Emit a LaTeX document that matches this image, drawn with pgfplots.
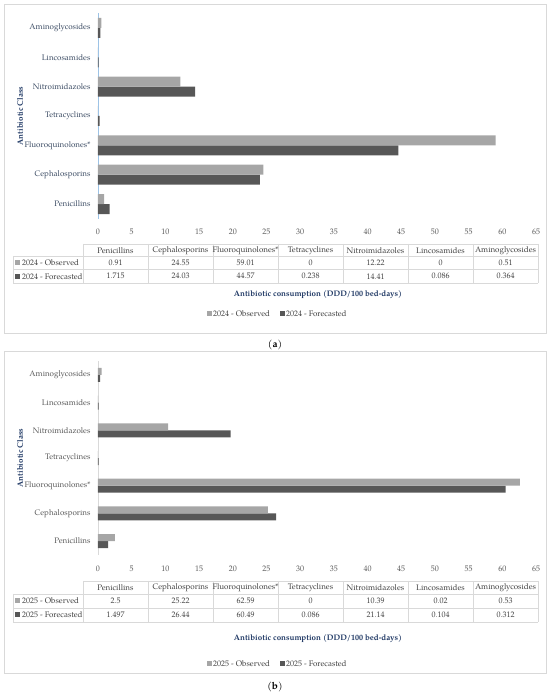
\documentclass[border=0pt]{standalone}
\usepackage{fontspec}
\setmainfont{TeX Gyre Pagella}
\usepackage{pgfplots}
\pgfplotsset{compat=1.18}

\definecolor{obs}{HTML}{A6A6A6}
\definecolor{fc}{HTML}{575757}
\definecolor{navy}{HTML}{1F3864}
\definecolor{catA}{HTML}{3B4B63}
\definecolor{catB}{HTML}{595959}
\definecolor{tickgray}{HTML}{595959}
\definecolor{frame}{HTML}{D9D9D9}
\definecolor{axblue}{HTML}{9DC3E6}
\definecolor{ttext}{HTML}{404040}

\newcommand{\sz}{\fontsize{8}{9.6}\selectfont}

\pgfplotsset{panel/.style={
  scale only axis, width=438pt,
  xmin=0, xmax=65, ymin=-0.5, ymax=6.5,
  xtick={0,5,...,65}, ytick={0,...,6},
  yticklabels={Penicillins,Cephalosporins,Fluoroquinolones*,Tetracyclines,Nitroimidazoles,Lincosamides,Aminoglycosides},
  axis x line*=bottom, axis y line*=left,
  x axis line style={draw=none},
  major tick length=0pt,
  tick label style={font=\sz},
  xticklabel style={text=tickgray, yshift=-7pt},
  yticklabel style={xshift=-4pt},
  /pgf/number format/assume math mode=true,
  xbar, clip=false,
}}

% data table under each chart: #1 top, #2 row1, #3 row2, #4 bottom, #5 year, #6 observed, #7 forecasted
\newcommand{\datatable}[7]{%
  \draw[frame, line width=0.6pt] (83,#1) -- (538,#1);
  \foreach \yy in {#2,#3,#4} \draw[frame, line width=0.6pt] (13,\yy) -- (538,\yy);
  \draw[frame, line width=0.6pt] (13,#2) -- (13,#4);
  \foreach \k in {0,...,7} \draw[frame, line width=0.6pt] (83+65*\k,#1) -- (83+65*\k,#4);
  \foreach \c [count=\k from 0] in {Penicillins,Cephalosporins,Fluoroquinolones*,Tetracyclines,Nitroimidazoles,Lincosamides,Aminoglycosides}
    \node[font=\sz, text=ttext, inner sep=0pt] at (115.5+65*\k,{(#1+#2)/2}) {\c};
  \foreach \v [count=\k from 0] in {#6}
    \node[font=\sz, text=ttext, inner sep=0pt] at (115.5+65*\k,{(#2+#3)/2}) {\v};
  \foreach \v [count=\k from 0] in {#7}
    \node[font=\sz, text=ttext, inner sep=0pt] at (115.5+65*\k,{(#3+#4)/2}) {\v};
  \fill[obs] (15,{(#2+#3)/2-2.5}) rectangle +(5,5);
  \node[font=\sz, text=ttext, anchor=west, inner sep=0pt] at (22,{(#2+#3)/2}) {#5 - Observed};
  \fill[fc] (15,{(#3+#4)/2-2.5}) rectangle +(5,5);
  \node[font=\sz, text=ttext, anchor=west, inner sep=0pt] at (22,{(#3+#4)/2}) {#5 - Forecasted};
}

\newcommand{\legendrow}[2]{%
  \fill[obs] (207,{#1-2.5}) rectangle +(5,5);
  \node[font=\sz, text=ttext, anchor=west, inner sep=0pt] at (213,#1) {#2 - Observed};
  \fill[fc] (280,{#1-2.5}) rectangle +(5,5);
  \node[font=\sz, text=ttext, anchor=west, inner sep=0pt] at (286,#1) {#2 - Forecasted};
}

\begin{document}
\begin{tikzpicture}
\path[use as bounding box] (0,0) rectangle (550pt,699pt);

% panel (a)
\begin{axis}[panel, anchor=south west, at={(98pt,480.3pt)}, height=205.4pt,
  y axis line style={draw=axblue}, yticklabel style={text=catA}]
\addplot[fill=fc, draw=none, bar width=10pt, bar shift=-5pt]
  coordinates {(1.715,0) (24.03,1) (44.57,2) (0.238,3) (14.41,4) (0.086,5) (0.364,6)};
\addplot[fill=obs, draw=none, bar width=10pt, bar shift=5pt]
  coordinates {(0.91,0) (24.55,1) (59.01,2) (0,3) (12.22,4) (0,5) (0.51,6)};
\end{axis}

% panel (b)
\begin{axis}[panel, anchor=south west, at={(98pt,144pt)}, height=194pt,
  y axis line style={draw=frame}, yticklabel style={text=catB}]
\addplot[fill=fc, draw=none, bar width=7pt, bar shift=-3.5pt]
  coordinates {(1.497,0) (26.44,1) (60.49,2) (0.086,3) (19.7,4) (0.104,5) (0.312,6)};
\addplot[fill=obs, draw=none, bar width=7pt, bar shift=3.5pt]
  coordinates {(2.5,0) (25.22,1) (62.59,2) (0,3) (10.39,4) (0.02,5) (0.53,6)};
\end{axis}

\begin{scope}[x=1pt, y=-1pt, yshift=699pt]
  % frames
  \draw[frame, line width=0.8pt] (4,4) rectangle (546,333);
  \draw[frame, line width=0.8pt] (4,351) rectangle (546,673);
  % axis titles
  \node[rotate=90, font=\sz\bfseries, text=navy] at (20,116) {Antibiotic Class};
  \node[rotate=90, font=\sz\bfseries, text=navy] at (20,458) {Antibiotic Class};
  \datatable{244}{256.5}{269.5}{283}{2024}{0.91,24.55,59.01,0,12.22,0,0.51}{1.715,24.03,44.57,0.238,14.41,0.086,0.364}
  \datatable{581}{594}{608}{622}{2025}{2.5,25.22,62.59,0,10.39,0.02,0.53}{1.497,26.44,60.49,0.086,21.14,0.104,0.312}
  \node[font=\sz\bfseries, text=navy] at (318,295) {Antibiotic consumption (DDD/100 bed-days)};
  \node[font=\sz\bfseries, text=navy] at (318,639) {Antibiotic consumption (DDD/100 bed-days)};
  \legendrow{314}{2024}
  \legendrow{664}{2025}
  \node[font=\fontsize{10}{12}\selectfont] at (275,345) {(\textbf{a})};
  \node[font=\fontsize{10}{12}\selectfont] at (275,687) {(\textbf{b})};
\end{scope}
\end{tikzpicture}
\end{document}
